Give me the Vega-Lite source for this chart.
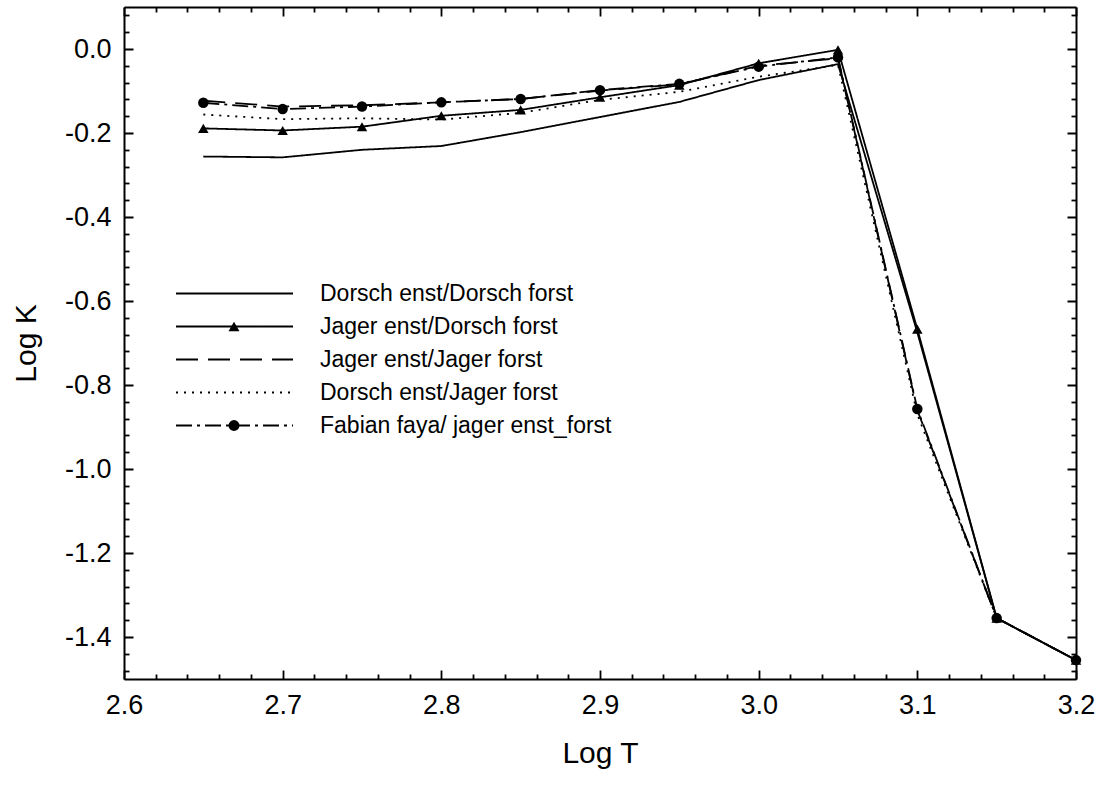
{
  "$schema": "https://vega.github.io/schema/vega-lite/v6.json",
  "autosize": {"type": "none"},
  "width": 952,
  "height": 672,
  "padding": {"left": 124, "top": 7, "right": 35, "bottom": 108},
  "background": "white",
  "config": {
    "view": {"stroke": null},
    "font": "Liberation Sans",
    "axis": {
      "grid": false,
      "ticks": true,
      "domainColor": "black",
      "domainWidth": 2,
      "tickColor": "black",
      "tickWidth": 1.8,
      "labelFont": "Liberation Sans",
      "labelFontSize": 27,
      "labelColor": "black",
      "labelFlush": false,
      "labelOverlap": false,
      "labelBound": false,
      "titleFont": "Liberation Sans",
      "titleFontSize": 30,
      "titleFontWeight": "normal",
      "titleColor": "black"
    },
    "legend": {
      "labelFont": "Liberation Sans",
      "labelColor": "black",
      "labelLimit": 0,
      "padding": 0,
      "rowPadding": 0,
      "title": null
    }
  },
  "data": {
    "values": [
      {"series": "Dorsch enst/Dorsch forst", "logT": 2.65, "logK": -0.256},
      {"series": "Dorsch enst/Dorsch forst", "logT": 2.70, "logK": -0.258},
      {"series": "Dorsch enst/Dorsch forst", "logT": 2.75, "logK": -0.240},
      {"series": "Dorsch enst/Dorsch forst", "logT": 2.80, "logK": -0.231},
      {"series": "Dorsch enst/Dorsch forst", "logT": 2.85, "logK": -0.198},
      {"series": "Dorsch enst/Dorsch forst", "logT": 2.90, "logK": -0.162},
      {"series": "Dorsch enst/Dorsch forst", "logT": 2.95, "logK": -0.126},
      {"series": "Dorsch enst/Dorsch forst", "logT": 3.00, "logK": -0.074},
      {"series": "Dorsch enst/Dorsch forst", "logT": 3.05, "logK": -0.036},
      {"series": "Dorsch enst/Dorsch forst", "logT": 3.10, "logK": -0.675},
      {"series": "Dorsch enst/Dorsch forst", "logT": 3.15, "logK": -1.355},
      {"series": "Dorsch enst/Dorsch forst", "logT": 3.20, "logK": -1.455},
      {"series": "Jager enst/Dorsch forst", "logT": 2.65, "logK": -0.189},
      {"series": "Jager enst/Dorsch forst", "logT": 2.70, "logK": -0.194},
      {"series": "Jager enst/Dorsch forst", "logT": 2.75, "logK": -0.185},
      {"series": "Jager enst/Dorsch forst", "logT": 2.80, "logK": -0.159},
      {"series": "Jager enst/Dorsch forst", "logT": 2.85, "logK": -0.145},
      {"series": "Jager enst/Dorsch forst", "logT": 2.90, "logK": -0.115},
      {"series": "Jager enst/Dorsch forst", "logT": 2.95, "logK": -0.086},
      {"series": "Jager enst/Dorsch forst", "logT": 3.00, "logK": -0.034},
      {"series": "Jager enst/Dorsch forst", "logT": 3.05, "logK": -0.002},
      {"series": "Jager enst/Dorsch forst", "logT": 3.10, "logK": -0.667},
      {"series": "Jager enst/Dorsch forst", "logT": 3.15, "logK": -1.355},
      {"series": "Jager enst/Dorsch forst", "logT": 3.20, "logK": -1.455},
      {"series": "Jager enst/Jager forst", "logT": 2.65, "logK": -0.123},
      {"series": "Jager enst/Jager forst", "logT": 2.70, "logK": -0.137},
      {"series": "Jager enst/Jager forst", "logT": 2.75, "logK": -0.134},
      {"series": "Jager enst/Jager forst", "logT": 2.80, "logK": -0.127},
      {"series": "Jager enst/Jager forst", "logT": 2.85, "logK": -0.119},
      {"series": "Jager enst/Jager forst", "logT": 2.90, "logK": -0.099},
      {"series": "Jager enst/Jager forst", "logT": 2.95, "logK": -0.084},
      {"series": "Jager enst/Jager forst", "logT": 3.00, "logK": -0.040},
      {"series": "Jager enst/Jager forst", "logT": 3.05, "logK": -0.022},
      {"series": "Jager enst/Jager forst", "logT": 3.10, "logK": -0.860},
      {"series": "Jager enst/Jager forst", "logT": 3.15, "logK": -1.355},
      {"series": "Jager enst/Jager forst", "logT": 3.20, "logK": -1.455},
      {"series": "Dorsch enst/Jager forst", "logT": 2.65, "logK": -0.156},
      {"series": "Dorsch enst/Jager forst", "logT": 2.70, "logK": -0.167},
      {"series": "Dorsch enst/Jager forst", "logT": 2.75, "logK": -0.165},
      {"series": "Dorsch enst/Jager forst", "logT": 2.80, "logK": -0.168},
      {"series": "Dorsch enst/Jager forst", "logT": 2.85, "logK": -0.152},
      {"series": "Dorsch enst/Jager forst", "logT": 2.90, "logK": -0.121},
      {"series": "Dorsch enst/Jager forst", "logT": 2.95, "logK": -0.102},
      {"series": "Dorsch enst/Jager forst", "logT": 3.00, "logK": -0.066},
      {"series": "Dorsch enst/Jager forst", "logT": 3.05, "logK": -0.038},
      {"series": "Dorsch enst/Jager forst", "logT": 3.10, "logK": -0.870},
      {"series": "Dorsch enst/Jager forst", "logT": 3.15, "logK": -1.355},
      {"series": "Dorsch enst/Jager forst", "logT": 3.20, "logK": -1.455},
      {"series": "Fabian faya/ jager enst_forst", "logT": 2.65, "logK": -0.128},
      {"series": "Fabian faya/ jager enst_forst", "logT": 2.70, "logK": -0.143},
      {"series": "Fabian faya/ jager enst_forst", "logT": 2.75, "logK": -0.137},
      {"series": "Fabian faya/ jager enst_forst", "logT": 2.80, "logK": -0.127},
      {"series": "Fabian faya/ jager enst_forst", "logT": 2.85, "logK": -0.119},
      {"series": "Fabian faya/ jager enst_forst", "logT": 2.90, "logK": -0.098},
      {"series": "Fabian faya/ jager enst_forst", "logT": 2.95, "logK": -0.083},
      {"series": "Fabian faya/ jager enst_forst", "logT": 3.00, "logK": -0.042},
      {"series": "Fabian faya/ jager enst_forst", "logT": 3.05, "logK": -0.020},
      {"series": "Fabian faya/ jager enst_forst", "logT": 3.10, "logK": -0.857},
      {"series": "Fabian faya/ jager enst_forst", "logT": 3.15, "logK": -1.355},
      {"series": "Fabian faya/ jager enst_forst", "logT": 3.20, "logK": -1.455}
    ]
  },
  "resolve": {
    "axis": {"x": "independent", "y": "independent"},
    "legend": {"strokeDash": "independent", "shape": "independent"}
  },
  "layer": [
    {
      "mark": {"type": "line", "color": "black", "strokeWidth": 1.8},
      "encoding": {
        "x": {
          "field": "logT", "type": "quantitative",
          "scale": {"domain": [2.6, 3.2], "nice": false, "zero": false},
          "axis": {
            "orient": "bottom",
            "title": "Log T",
            "ticks": true,
            "tickSize": -9,
            "values": [2.6, 2.62, 2.64, 2.66, 2.68, 2.7, 2.72, 2.74, 2.76, 2.78, 2.8, 2.82, 2.84, 2.86, 2.88, 2.9, 2.92, 2.94, 2.96, 2.98, 3.0, 3.02, 3.04, 3.06, 3.08, 3.1, 3.12, 3.14, 3.16, 3.18, 3.2],
            "labelExpr": "abs(datum.value*10 - round(datum.value*10)) < 0.001 ? format(datum.value, '.1f') : ''",
            "tickDash": {"condition": {"test": "abs(datum.value*10 - round(datum.value*10)) < 0.001", "value": [1, 0]}, "value": [5, 30]},
            "labelPadding": 22,
            "titlePadding": 20
          }
        },
        "y": {
          "field": "logK", "type": "quantitative",
          "scale": {"domain": [-1.5, 0.1], "nice": false, "zero": false},
          "axis": {
            "orient": "left",
            "title": "Log K",
            "ticks": true,
            "tickSize": -9,
            "values": [-1.48, -1.44, -1.4, -1.36, -1.32, -1.28, -1.24, -1.2, -1.16, -1.12, -1.08, -1.04, -1.0, -0.96, -0.92, -0.88, -0.84, -0.8, -0.76, -0.72, -0.68, -0.64, -0.6, -0.56, -0.52, -0.48, -0.44, -0.4, -0.36, -0.32, -0.28, -0.24, -0.2, -0.16, -0.12, -0.08, -0.04, 0, 0.04, 0.08],
            "labelExpr": "abs(datum.value*5 - round(datum.value*5)) < 0.001 ? (datum.value < -0.001 ? '-' : '') + format(abs(datum.value), '.1f') : ''",
            "tickDash": {"condition": {"test": "abs(datum.value*5 - round(datum.value*5)) < 0.001", "value": [1, 0]}, "value": [5, 30]},
            "labelPadding": 22,
            "titlePadding": 23
          }
        },
        "detail": {"field": "series"},
        "strokeDash": {
          "field": "series", "type": "nominal",
          "scale": {
            "domain": ["Dorsch enst/Dorsch forst", "Jager enst/Dorsch forst", "Jager enst/Jager forst", "Dorsch enst/Jager forst", "Fabian faya/ jager enst_forst"],
            "range": [[1, 0], [1, 0], [22, 10], [2, 6], [16, 5, 3, 5]]
          },
          "legend": {
            "orient": "none",
            "legendX": 51,
            "legendY": 270,
            "symbolType": "stroke",
            "symbolSize": 13689,
            "symbolStrokeWidth": 1.8,
            "symbolStrokeColor": "black",
            "clipHeight": 33,
            "labelFontSize": 23,
            "labelOffset": 26,
            "labelLimit": 0,
            "title": null
          }
        }
      }
    },
    {
      "mark": {"type": "point", "filled": true, "color": "black", "opacity": 1, "size": 110},
      "encoding": {
        "x": {
          "field": "logT", "type": "quantitative",
          "axis": {
            "orient": "top",
            "title": null,
            "labels": false,
            "ticks": true,
            "tickSize": -9,
            "values": [2.6, 2.62, 2.64, 2.66, 2.68, 2.7, 2.72, 2.74, 2.76, 2.78, 2.8, 2.82, 2.84, 2.86, 2.88, 2.9, 2.92, 2.94, 2.96, 2.98, 3.0, 3.02, 3.04, 3.06, 3.08, 3.1, 3.12, 3.14, 3.16, 3.18, 3.2],
            "tickDash": {"condition": {"test": "abs(datum.value*10 - round(datum.value*10)) < 0.001", "value": [1, 0]}, "value": [5, 30]}
          }
        },
        "y": {
          "field": "logK", "type": "quantitative",
          "axis": {
            "orient": "right",
            "title": null,
            "labels": false,
            "ticks": true,
            "tickSize": -9,
            "values": [-1.48, -1.44, -1.4, -1.36, -1.32, -1.28, -1.24, -1.2, -1.16, -1.12, -1.08, -1.04, -1.0, -0.96, -0.92, -0.88, -0.84, -0.8, -0.76, -0.72, -0.68, -0.64, -0.6, -0.56, -0.52, -0.48, -0.44, -0.4, -0.36, -0.32, -0.28, -0.24, -0.2, -0.16, -0.12, -0.08, -0.04, 0, 0.04, 0.08],
            "tickDash": {"condition": {"test": "abs(datum.value*5 - round(datum.value*5)) < 0.001", "value": [1, 0]}, "value": [5, 30]}
          }
        },
        "shape": {
          "field": "series", "type": "nominal",
          "scale": {
            "domain": ["Dorsch enst/Dorsch forst", "Jager enst/Dorsch forst", "Jager enst/Jager forst", "Dorsch enst/Jager forst", "Fabian faya/ jager enst_forst"],
            "range": ["M0,0", "triangle-up", "M0,0", "M0,0", "circle"]
          },
          "legend": {
            "orient": "none",
            "legendX": 51,
            "legendY": 270,
            "symbolSize": 120,
            "symbolFillColor": "black",
            "symbolStrokeColor": "black",
            "symbolStrokeWidth": 1,
            "symbolOffset": 53,
            "clipHeight": 33,
            "labelFontSize": 1,
            "labelExpr": "''",
            "title": null
          }
        }
      }
    }
  ]
}
